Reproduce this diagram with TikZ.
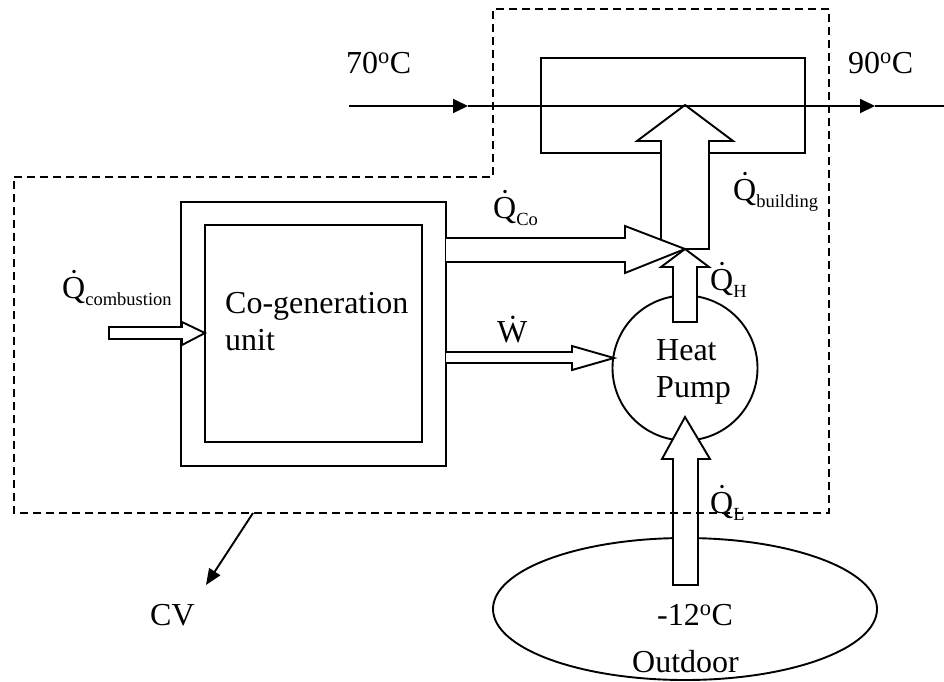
\documentclass[tikz,border=0pt]{standalone}
\usepackage{fontspec}
\setmainfont{Liberation Serif}
\usetikzlibrary{arrows.meta,shapes.geometric}

\newcommand\Qd[1]{\.{Q}\raisebox{-7pt}{\fontsize{18.5}{20}\selectfont #1}}
\newcommand\degC{\textsuperscript{o}C}

\tikzset{
  blk/.style={draw,line width=1.9pt,fill=white,line join=miter},
  box/.style={draw,line width=1.9pt,inner sep=0pt},
  cvline/.style={line width=1.9pt,dash pattern=on 8pt off 5pt},
  lbl/.style={anchor=base west,inner sep=0pt},
  pipe/.style={line width=1.9pt,-{Triangle[length=15pt,width=14pt]}}
}

\begin{document}
\begin{tikzpicture}[x=1pt,y=-1pt,font=\fontsize{32}{37}\selectfont]
\useasboundingbox (0,0) rectangle (944,681);
% units and boxes
\node[box,minimum width=264pt,minimum height=95pt] (hx) at (673,105.5) {};
\node[box,minimum width=265pt,minimum height=264pt] (cgout) at (313.5,334) {};
\node[box,minimum width=217pt,minimum height=217pt] (cgin) at (313.5,333.5) {};
\node[box,circle,minimum size=145pt] (hp) at (685,368) {};
\node[box,ellipse,minimum width=384pt,minimum height=142pt] (out) at (685,609) {};
% heat flows
\draw[blk] (661,240) -- (661,141) -- (637,141) -- (685,105) -- (733,141) -- (709,141) -- (709,249) -- (685,249);
\draw[blk] (446,238) -- (625,238) -- (625,226) -- (685,249) -- (625,273) -- (625,262) -- (446,262);
\draw[blk] (673,322) -- (673,267) -- (661,267) -- (685,249) -- (709,267) -- (697,267) -- (697,322) -- cycle;
\draw[blk] (446,352) -- (572,352) -- (572,346) -- (614,358) -- (572,370) -- (572,363) -- (446,363);
\draw[blk] (673,585) -- (673,459) -- (662,459) -- (685,417) -- (710,459) -- (698,459) -- (698,585) -- cycle;
\draw[blk] (109,327) -- (182,327) -- (182,322) -- (205,333) -- (182,345) -- (182,339) -- (109,339) -- cycle;
% water line
\coordinate (win) at (349,106);
\coordinate (m1) at (468,106);
\coordinate (m2) at (875,106);
\coordinate (wout) at (944,106);
\draw[pipe] (win) -- (m1);
\draw[pipe] (m1) -- (m2);
\draw[line width=1.9pt] (m2) -- (wout);
% labels
\node[lbl] (tin) at (346,73) {70\degC};
\node[lbl] (tout) at (848,73) {90\degC};
\node[lbl] (qb) at (733,200) {\Qd{building}};
\node[lbl] (qco) at (493,218) {\Qd{Co}};
\node[lbl] (qh) at (710,290) {\Qd{H}};
\node[lbl] (w) at (497,342) {\.{W}};
\node[lbl] (ql) at (710,513) {\Qd{L}};
\node[lbl] (qc) at (62,298) {\Qd{combustion}};
\node[lbl,align=left] (cgtxt) at (225,350) {Co-generation\\unit};
\node[lbl,align=left] (hptxt) at (656,397) {Heat\\Pump};
\node[lbl] (tl) at (657,625) {-12\degC};
\node[lbl] (od) at (632,672) {Outdoor};
\node[lbl] (cv) at (150,625) {CV};
% control volume
\draw[cvline] (14,177) -- (493,177) -- (493,9) -- (829,9) -- (829,513) -- (14,513) -- cycle;
\coordinate (cvb) at (253,513);
\coordinate (cvt) at (206,585);
\draw[line width=1.9pt,-{Triangle[length=16pt,width=13pt]}] (cvb) -- (cvt);
\end{tikzpicture}
\end{document}
